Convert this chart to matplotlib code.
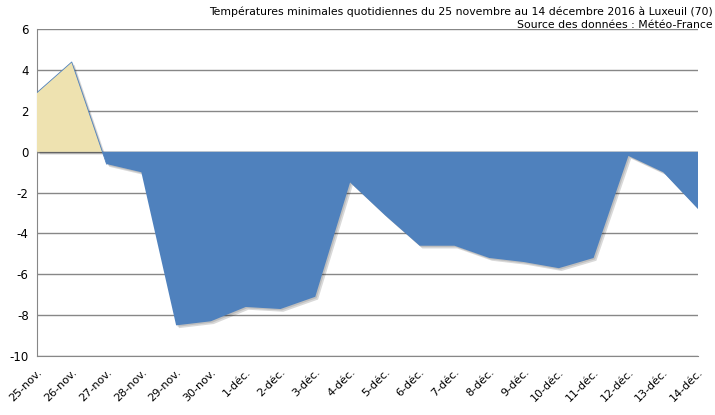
import matplotlib
matplotlib.use("Agg")
import matplotlib.pyplot as plt
import matplotlib.patheffects as pe
import numpy as np

# minimal temperatures, Luxeuil, 25 nov -> 14 dec 2016
days = ["25-nov.", "26-nov.", "27-nov.", "28-nov.", "29-nov.", "30-nov.",
        "1-déc.", "2-déc.", "3-déc.", "4-déc.", "5-déc.", "6-déc.", "7-déc.",
        "8-déc.", "9-déc.", "10-déc.", "11-déc.", "12-déc.", "13-déc.", "14-déc."]
tmin = [2.9, 4.4, -0.6, -1.0, -8.5, -8.3, -7.6, -7.7, -7.1, -1.5,
        -3.1, -4.6, -4.6, -5.2, -5.4, -5.7, -5.2, -0.2, -1.0, -2.8]
yticks = [-10, -8, -6, -4, -2, 0, 2, 4, 6]

BLUE = "#4F81BD"
BEIGE = "#EEE2B0"
GRID = "#878787"

plt.rcParams['font.family'] = ['DejaVu Sans']

fig = plt.figure(figsize=(7.15, 4.15), dpi=100)
ax = fig.add_axes([0.0517, 0.1422, 0.9245, 0.7872])

x = np.arange(len(days))
y = np.array(tmin)
# soft drop shadow, like the spreadsheet export
shadow = [pe.SimplePatchShadow(offset=(2, -2), shadow_rgbFace="black", alpha=0.15),
          pe.SimplePatchShadow(offset=(1, -1), shadow_rgbFace="black", alpha=0.12),
          pe.Normal()]

pos = ax.fill_between(x, 0, y, where=y >= 0, interpolate=True,
                      facecolor=BEIGE, edgecolor="none", zorder=3)
neg = ax.fill_between(x, 0, y, where=y <= 0, interpolate=True,
                      facecolor=BLUE, edgecolor="none", zorder=3)
pos.set_path_effects(shadow)
neg.set_path_effects(shadow)
ax.plot(x[:3], y[:3], color=BLUE, linewidth=0.6, zorder=4)

ax.set_xlim(0, len(days) - 1)
ax.set_ylim(-10, 6)
ax.set_yticks(yticks)
ax.set_yticklabels([str(v) for v in yticks], fontsize=8.5)
ax.set_xticks(x)
ax.set_xticklabels(days, rotation=45, ha="right", rotation_mode="anchor", fontsize=8)
ax.tick_params(axis="both", length=0, pad=6)
ax.tick_params(axis="x", pad=8)

ax.grid(axis="y", color=GRID, linewidth=1)
ax.set_axisbelow(True)
for s in ["top", "right"]:
    ax.spines[s].set_visible(False)
ax.spines["left"].set_color(GRID)
ax.spines["bottom"].set_color(GRID)
ax.axhline(0, color=GRID, linewidth=1, zorder=2)

fig.text(0.997, 0.985, "Températures minimales quotidiennes du 25 novembre au 14 décembre 2016 à Luxeuil (70)",
         ha="right", va="top", fontsize=7.85)
fig.text(0.997, 0.953, "Source des données : Météo-France", ha="right", va="top", fontsize=7.85)

fig.savefig("out.png", dpi=100)
